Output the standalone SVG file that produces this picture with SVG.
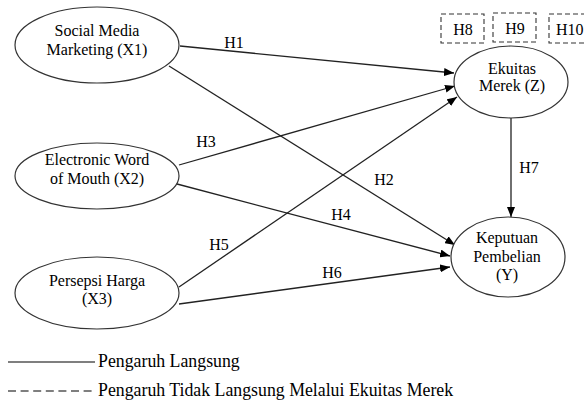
<svg xmlns="http://www.w3.org/2000/svg" width="584" height="401" viewBox="0 0 584 401">
<defs>
<style>
text{font-family:"Liberation Serif","Times New Roman",serif;font-size:16px;fill:#000}
.n{text-anchor:middle}
ellipse{fill:#fff;stroke:#333;stroke-width:1.2}
.c{stroke:#222;stroke-width:1.3;fill:none}
.box{fill:none;stroke:#333;stroke-width:1.1;stroke-dasharray:5 3}
.lg{font-size:17.8px}
</style>
<marker id="ah" viewBox="0 0 10 8" refX="10" refY="4" markerWidth="10" markerHeight="8" markerUnits="userSpaceOnUse" orient="auto">
<path d="M0,0 L10,4 L0,8 Z" fill="#000"/>
</marker>
</defs>
<rect width="584" height="401" fill="#fff"/>
<g id="connectors">
<line class="c" x1="180" y1="46" x2="454" y2="73" marker-end="url(#ah)"/>
<line class="c" x1="169" y1="66" x2="455" y2="245" marker-end="url(#ah)"/>
<line class="c" x1="179" y1="165" x2="455" y2="86" marker-end="url(#ah)"/>
<line class="c" x1="177" y1="184" x2="450" y2="256" marker-end="url(#ah)"/>
<line class="c" x1="179" y1="287" x2="457" y2="97" marker-end="url(#ah)"/>
<line class="c" x1="179" y1="304" x2="450" y2="267" marker-end="url(#ah)"/>
<line class="c" x1="511" y1="118" x2="511" y2="217" marker-end="url(#ah)"/>
<text x="234" y="48" class="n">H1</text>
<text x="384" y="185" class="n">H2</text>
<text x="206" y="147" class="n">H3</text>
<text x="341" y="220" class="n">H4</text>
<text x="219" y="250" class="n">H5</text>
<text x="332" y="278" class="n">H6</text>
<text x="529" y="173" class="n">H7</text>
</g>
<g id="x1">
<ellipse cx="97" cy="45" rx="82" ry="38"/>
<text x="97" y="36" class="n">Social Media</text>
<text x="97" y="55" class="n">Marketing (X1)</text>
</g>
<g id="x2">
<ellipse cx="97" cy="176" rx="82" ry="33"/>
<text x="97" y="165" class="n">Electronic Word</text>
<text x="97" y="184" class="n">of Mouth (X2)</text>
</g>
<g id="x3">
<ellipse cx="97" cy="293" rx="82" ry="36"/>
<text x="97" y="286" class="n">Persepsi Harga</text>
<text x="97" y="304" class="n">(X3)</text>
</g>
<g id="z">
<ellipse cx="511" cy="82" rx="57" ry="36"/>
<text x="512" y="74" class="n">Ekuitas</text>
<text x="512" y="91" class="n">Merek (Z)</text>
</g>
<g id="y">
<ellipse cx="508" cy="257" rx="57" ry="40"/>
<text x="507" y="243" class="n">Keputuan</text>
<text x="507" y="262" class="n">Pembelian</text>
<text x="507" y="280" class="n">(Y)</text>
</g>
<g id="h8">
<rect class="box" x="441" y="14" width="43" height="29"/>
<text x="463" y="35" class="n">H8</text>
</g>
<g id="h9">
<rect class="box" x="493" y="13" width="43" height="29"/>
<text x="515" y="34" class="n">H9</text>
</g>
<g id="h10">
<rect class="box" x="549" y="14" width="43" height="29"/>
<text x="556" y="35">H10</text>
</g>
<g id="legend">
<line x1="8" y1="362" x2="95" y2="362" stroke="#000" stroke-width="1.2"/>
<text x="98" y="367" class="lg">Pengaruh Langsung</text>
<line x1="8" y1="391" x2="95" y2="391" stroke="#000" stroke-width="1.2" stroke-dasharray="8 4.6"/>
<text x="98" y="396" class="lg">Pengaruh Tidak Langsung Melalui Ekuitas Merek</text>
</g>
</svg>
